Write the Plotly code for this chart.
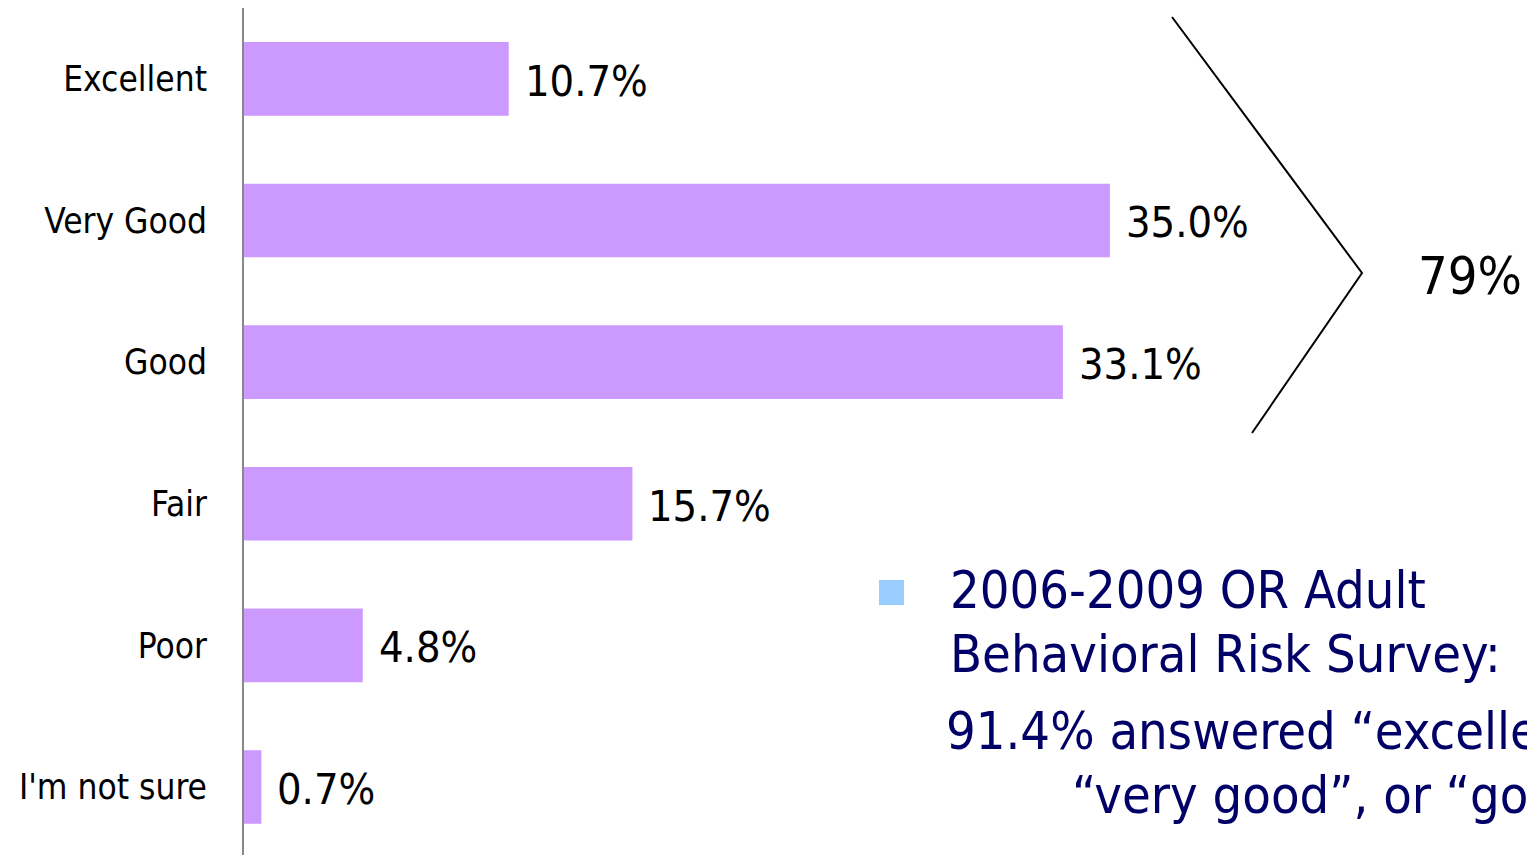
import plotly.graph_objects as go

categories = ["Excellent", "Very Good", "Good", "Fair", "Poor", "I'm not sure"]
values = [10.7, 35.0, 33.1, 15.7, 4.8, 0.7]
value_labels = ["10.7%", "35.0%", "33.1%", "15.7%", "4.8%", "0.7%"]
bracket_label = "79%"
note_lines = ["2006-2009 OR Adult", "Behavioral Risk Survey:",
              "91.4% answered \u201cexcellent\u201d,", "\u201cvery good\u201d, or \u201cgood\u201d"]

OFF = 8  # page body margin
W, H = 1535, 855 - OFF
L, T, B = 236, 0, 0
PW, PH = W - L, H - T - B
COND = "DejaVu Sans Condensed, Liberation Sans Narrow, DejaVu Sans, sans-serif"

def px(x):
    return (x - OFF - L) / PW

def py(y):
    return (H - B - (y - OFF)) / PH

fig = go.Figure()
fig.add_trace(go.Bar(
    y=categories, x=values, orientation="h",
    marker=dict(color="#CC99FF", line=dict(width=0)),
    width=0.52, hoverinfo="skip",
))

annotations = []
for c, v, lab in zip(categories, values, value_labels):
    annotations.append(dict(x=v, y=c, xref="x", yref="y", text=lab, showarrow=False,
                            xanchor="left", yanchor="middle", xshift=14, yshift=-2,
                            font=dict(family=COND, size=43, color="#000000")))

annotations.append(dict(x=px(1416), y=py(276), xref="paper", yref="paper", text=bracket_label,
                        showarrow=False, xanchor="left", yanchor="middle",
                        font=dict(family=COND, size=52, color="#000000")))

note_pos = [(948, 590), (948, 654), (944, 731), (1070, 795)]
for (x0, y0), t in zip(note_pos, note_lines):
    annotations.append(dict(x=px(x0), y=py(y0), xref="paper", yref="paper", text=t,
                            showarrow=False, xanchor="left", yanchor="middle",
                            font=dict(family=COND, size=52, color="#000066")))

shapes = [
    dict(type="path", xref="paper", yref="paper",
         path=f"M {px(1172)},{py(17)} L {px(1362)},{py(273)} L {px(1252)},{py(433)}",
         line=dict(color="#000000", width=2)),
    dict(type="rect", xref="paper", yref="paper",
         x0=px(879), x1=px(904), y0=py(605), y1=py(580),
         fillcolor="#99CCFF", line=dict(width=0)),
]

fig.update_layout(
    width=W, height=H,
    margin=dict(l=L, r=0, t=T, b=B, pad=0),
    paper_bgcolor="white", plot_bgcolor="white",
    showlegend=False,
    bargap=0.48,
    annotations=annotations,
    shapes=shapes,
    xaxis=dict(range=[0, PW / 24.74], visible=False, fixedrange=True),
    yaxis=dict(range=[5.48, -0.5], showgrid=False, zeroline=False,
               showline=True, linecolor="#888888", linewidth=2,
               ticks="", ticklabelstandoff=28,
               tickfont=dict(family=COND, size=35, color="#000000"),
               fixedrange=True),
)

fig.write_html("out.html", config={"displayModeBar": False})
